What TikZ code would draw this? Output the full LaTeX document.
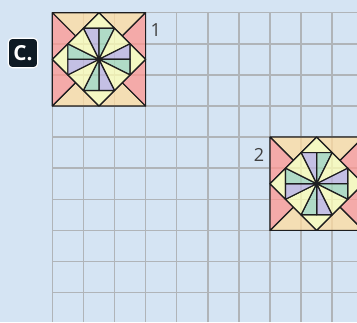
\documentclass[tikz,border=0pt]{standalone}
\usepackage{fontspec}
\setmainfont{Open Sans}
\usetikzlibrary{positioning}
\definecolor{paper}{RGB}{213,228,243}
\definecolor{gridgray}{RGB}{176,180,184}
\definecolor{outline}{RGB}{30,30,32}
\definecolor{rose}{RGB}{255,151,145}
\definecolor{peach}{RGB}{255,220,159}
\definecolor{cream}{RGB}{255,255,180}
\definecolor{lilac}{RGB}{191,180,223}
\definecolor{mint}{RGB}{164,217,185}
\definecolor{tagink}{RGB}{14,26,36}
\tikzset{
gridline/.style={draw=gridgray,line width=1.4pt},
piece/.style={draw=outline,line width=1.1pt,line join=round,fill opacity=0.75},
num/.style={text=black!75,font=\fontsize{16.5}{16.5}\selectfont,inner sep=0pt},
tag/.style={fill=tagink,draw=white,line width=1pt,rounded corners=4pt,
    minimum size=0.95cm,inner sep=0pt,text=white,
    font=\bfseries\fontsize{19}{19}\selectfont},
pics/quilt/.style={code={
    \begin{scope}[shift={(1.5,-1.5)}]
    % corner halves
    \foreach \sx/\sy in {1/1,-1/1,1/-1,-1/-1}{
        \begin{scope}[xscale=\sx,yscale=\sy]
        \filldraw[piece,fill=peach] (-1.5,1.5) -- (0,1.5) -- (-0.75,0.75) -- cycle;
        \filldraw[piece,fill=rose] (-1.5,1.5) -- (-1.5,0) -- (-0.75,0.75) -- cycle;
        \end{scope}
    }
    % tips and pinwheel
    \foreach \r in {0,-90,-180,-270}{
        \begin{scope}[rotate=\r]
        \filldraw[piece,fill=cream] (0,1.5) -- (-0.5,1) -- (0.5,1) -- cycle;
        \filldraw[piece,fill=lilac] (0,0) -- (-0.5,1) -- (0,1) -- cycle;
        \filldraw[piece,fill=mint] (0,0) -- (0,1) -- (0.5,1) -- cycle;
        \filldraw[piece,fill=cream] (0,0) -- (0.5,1) -- (1,0.5) -- cycle;
        \end{scope}
    }
    \fill[outline] (0,0) circle (0.045);
    \end{scope}
}},
}

\begin{document}
\begin{tikzpicture}

    \useasboundingbox (-1.682,-9.946) rectangle (9.797,0.408);
    \clip (-1.682,-9.946) rectangle (9.797,0.408);
    \fill[paper] (-1.682,-9.946) rectangle (9.797,0.408);

    \draw[gridline] (0,-9.946) grid (9.797,0);

    \pic at (0,0) {quilt};
    \pic at (7,-4) {quilt};

    \node[num] (one) at (3.33,-0.556) {1};
    \node[num] (two) at (6.65,-4.56) {2};
    \node[tag] (part) at (-0.942,-1.296) {C.};

\end{tikzpicture}
\end{document}
